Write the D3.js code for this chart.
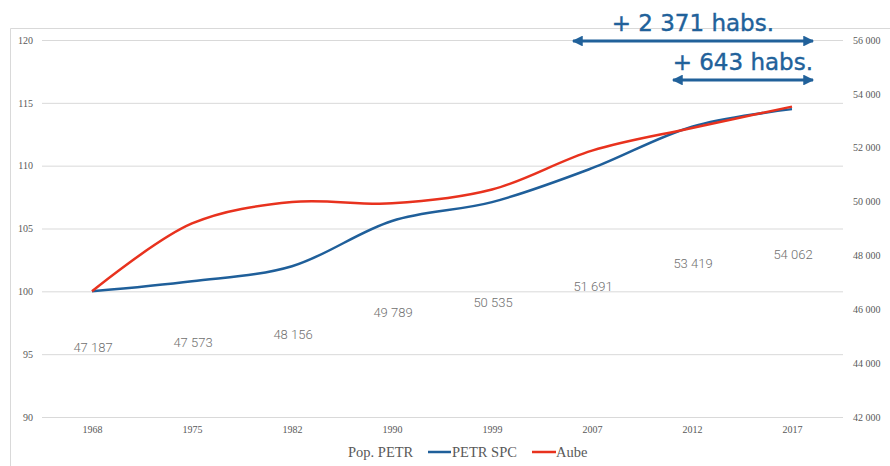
<!DOCTYPE html>
<html><head><meta charset="utf-8">
<script src="https://cdn.jsdelivr.net/npm/d3@7"></script>
<style>body{margin:0;background:#fff}svg{display:block}</style>
</head><body><svg id="c" width="890" height="466"></svg>
<script>
const years = ["1968","1975","1982","1990","1999","2007","2012","2017"];
const popPETR = [47187,47573,48156,49789,50535,51691,53419,54062];
const petrSPC = [100,100.8,102.0,105.6,107.1,109.8,113.1,114.5];
const aube = [100,105.4,107.1,107.0,108.1,111.2,113.0,114.7];
const leftTicks = [90,95,100,105,110,115,120];
const rightTicks = [42000,44000,46000,48000,50000,52000,54000,56000];
const annotations = [
  {text:"+ 2 371 habs.", from:"2007", to:"2017"},
  {text:"+ 643 habs.", from:"2012", to:"2017"}
];

const svg = d3.select("#c");
const L=42, R=842, T=40, B=417;
const x = d3.scalePoint().domain(years).range([L,R]).padding(0.5);
const yL = d3.scaleLinear().domain([90,120]).range([B,T]);
const yR = d3.scaleLinear().domain([42000,56000]).range([B,T]);
const yPop = d3.scaleLinear().domain([42000,70000]).range([B,T]);

// chart border
svg.append("path").attr("d","M10.5,466 L10.5,28.5 L890,28.5").attr("fill","none").attr("stroke","#d9d9d9");

// gridlines + left axis
const gL = svg.append("g").attr("transform",`translate(${L},0)`)
  .call(d3.axisLeft(yL).tickValues(leftTicks).tickSize(-(R-L+1)).tickPadding(9));
gL.select(".domain").remove();
gL.selectAll("line").attr("stroke","#d9d9d9");
gL.selectAll("text").attr("font-family","'Liberation Serif',serif").attr("font-size",10).attr("fill","#595959");

const gR = svg.append("g").attr("transform",`translate(${R},0)`)
  .call(d3.axisRight(yR).tickValues(rightTicks).tickSize(0).tickPadding(11).tickFormat(d=>d3.format(",")(d).replace(/,/g," ")));
gR.select(".domain").remove();
gR.selectAll("text").attr("font-family","'Liberation Serif',serif").attr("font-size",10).attr("fill","#595959");

const gX = svg.append("g").attr("transform",`translate(0,${B})`)
  .call(d3.axisBottom(x).tickSize(0).tickPadding(9));
gX.select(".domain").remove();
gX.selectAll("text").attr("font-family","'Liberation Serif',serif").attr("font-size",10).attr("fill","#595959");

// population data labels (hidden series)
svg.append("g").selectAll("text").data(popPETR).join("text")
  .attr("x",(d,i)=>x(years[i])+1).attr("y",d=>yPop(d)).attr("dy","0.35em")
  .attr("text-anchor","middle").attr("font-family","Roboto,sans-serif").attr("font-weight",300)
  .attr("font-size",13).attr("fill","#6f6f6f")
  .text(d=>d3.format(",")(d).replace(/,/g," "));

const line = d3.line().x((d,i)=>x(years[i])).y(d=>yL(d)).curve(d3.curveCatmullRom.alpha(0.5));
svg.append("path").attr("d",line(petrSPC)).attr("fill","none").attr("stroke","#1f5f9a").attr("stroke-width",2.5);
svg.append("path").attr("d",line(aube)).attr("fill","none").attr("stroke","#e8321e").attr("stroke-width",2.5);

// annotations
const acol="#21619a";
const defs = svg.append("defs");
defs.append("marker").attr("id","ah").attr("viewBox","0 0 10 10").attr("refX",9).attr("refY",5)
  .attr("markerWidth",4).attr("markerHeight",3.6).attr("orient","auto-start-reverse").attr("markerUnits","strokeWidth")
  .append("path").attr("d","M0,0 L10,5 L0,10 Z").attr("fill",acol);
const arrowY=[41,80], textY=[31,70];
const starts=[x("2007")-19, x("2012")-19], end=x("2017")+21;
annotations.forEach((a,i)=>{
  svg.append("line").attr("x1",starts[i]).attr("x2",end).attr("y1",arrowY[i]).attr("y2",arrowY[i])
    .attr("stroke",acol).attr("stroke-width",3).attr("marker-start","url(#ah)").attr("marker-end","url(#ah)");
  svg.append("text").attr("x",end).attr("y",textY[i]).attr("text-anchor","end")
    .attr("font-family","'DejaVu Sans',sans-serif").attr("font-size",23).attr("fill",acol)
    .attr("stroke",acol).attr("stroke-width",0.4)
    .attr("dx", i===0 ? -39 : 0)
    .text(a.text);
});

// legend
const lg = svg.append("g").attr("font-family","'Liberation Serif',serif").attr("font-size",14.5).attr("fill","#595959");
lg.append("text").attr("x",348).attr("y",457).text("Pop. PETR");
lg.append("line").attr("x1",428).attr("x2",451).attr("y1",452).attr("y2",452).attr("stroke","#1f5f9a").attr("stroke-width",2.5);
lg.append("text").attr("x",452).attr("y",457).text("PETR SPC");
lg.append("line").attr("x1",532).attr("x2",556).attr("y1",452).attr("y2",452).attr("stroke","#e8321e").attr("stroke-width",2.5);
lg.append("text").attr("x",556).attr("y",457).text("Aube");
</script></body></html>
